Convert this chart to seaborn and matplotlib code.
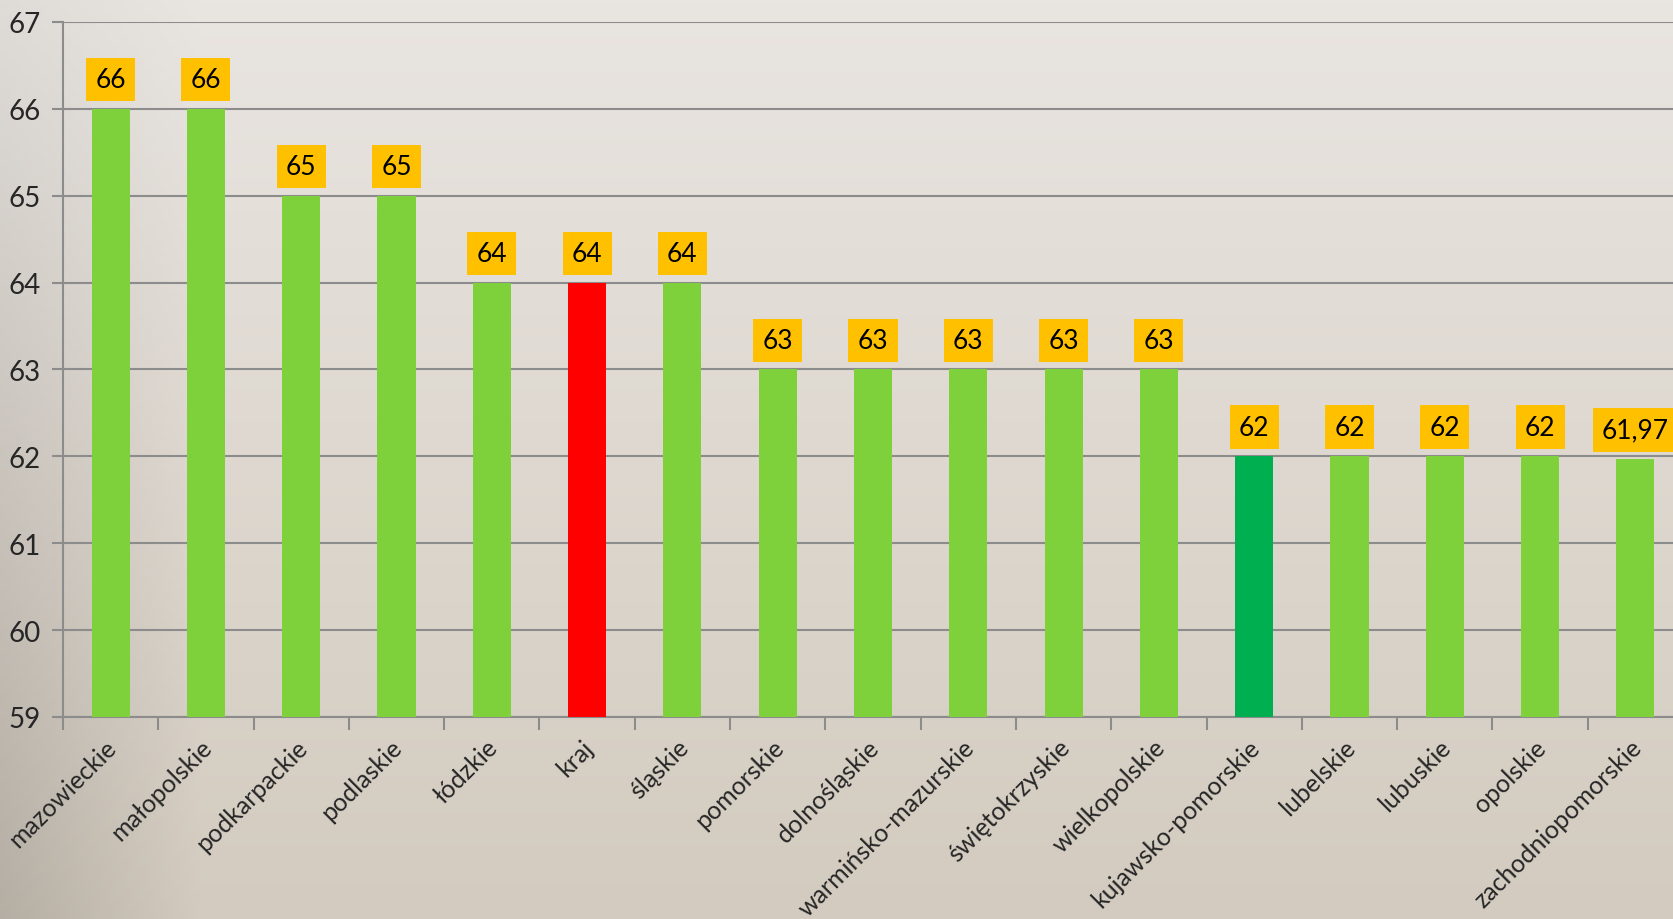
import numpy as np
import matplotlib
matplotlib.use("Agg")
import matplotlib.pyplot as plt
import seaborn as sns

# data
regions = ['mazowieckie', 'małopolskie', 'podkarpackie', 'podlaskie', 'łódzkie', 'kraj',
           'śląskie', 'pomorskie', 'dolnośląskie', 'warmińsko-mazurskie', 'świętokrzyskie',
           'wielkopolskie', 'kujawsko-pomorskie', 'lubelskie', 'lubuskie', 'opolskie',
           'zachodniopomorskie']
scores = [66, 66, 65, 65, 64, 64, 64, 63, 63, 63, 63, 63, 62, 62, 62, 62, 61.97]
labels = ['66', '66', '65', '65', '64', '64', '64', '63', '63', '63', '63', '63',
          '62', '62', '62', '62', '61,97']

green = '#7ED13B'
bar_colors = {r: green for r in regions}
bar_colors['kraj'] = '#FF0000'
bar_colors['kujawsko-pomorskie'] = '#00B050'

sns.set_style("white")
plt.rcParams['font.family'] = ['Lato', 'DejaVu Sans']

fig = plt.figure(figsize=(16.74, 9.2), dpi=100)

# beige slide background with a soft gradient
bg = fig.add_axes([0, 0, 1, 1], zorder=-1)
yy = np.linspace(0, 1, 200)[:, None]
xx = np.linspace(0, 1, 300)[None, :]
top = np.array([233, 229, 225]) / 255
bot = np.array([211, 203, 191]) / 255
grad = top[None, None, :] * (1 - yy[..., None]) + bot[None, None, :] * yy[..., None]
shade = np.clip(1 - xx / 0.12, 0, 1) * (0.3 + 0.7 * yy)
grad = grad * (1 - 0.14 * shade[..., None])
bg.imshow(grad, aspect='auto', extent=[0, 1, 0, 1])
bg.axis('off')

ax = fig.add_axes([0.0376, 0.2196, 0.9678, 0.7554])
ax.patch.set_alpha(0)

sns.barplot(x=regions, y=scores, hue=regions, palette=bar_colors, legend=False,
            width=0.4, saturation=1, linewidth=0, edgecolor='none', ax=ax, zorder=3)

ax.set_ylim(59, 67)
ax.set_yticks(range(59, 68))
ax.set_xlim(-0.5, len(regions) - 0.5)
ax.grid(axis='y', color='#8C8C8C', linewidth=1.5, zorder=0)
ax.set_axisbelow(True)

for s in ['top', 'right']:
    ax.spines[s].set_visible(False)
for s in ['left', 'bottom']:
    ax.spines[s].set_color('#8C8C8C')
    ax.spines[s].set_linewidth(1.5)

ax.tick_params(axis='y', left=True, length=8, width=1.5, color='#8C8C8C', labelsize=20, pad=8)
ax.tick_params(axis='x', which='major', length=0, labelsize=18, pad=13)
ax.set_xticks(np.arange(-0.5, len(regions), 1), minor=True)
ax.tick_params(axis='x', which='minor', bottom=True, length=9, width=1.5, color='#8C8C8C')
ax.set_xticks(range(len(regions)))
ax.set_xticklabels(regions, rotation=45, ha='right', rotation_mode='anchor')
for t in ax.get_xticklabels():
    t.set_transform(t.get_transform() + matplotlib.transforms.ScaledTranslation(-0.06, 0, fig.dpi_scale_trans))
ax.set_xlabel('')
ax.set_ylabel('')

for i, (v, lab) in enumerate(zip(scores, labels)):
    ax.annotate(lab, (i, v), xytext=(0, 12), textcoords='offset points',
                ha='center', va='bottom', fontsize=19, color='black', zorder=5,
                bbox=dict(boxstyle='square,pad=0.35', facecolor='#FFC000', edgecolor='none'))

fig.savefig('out.png', dpi=100)
